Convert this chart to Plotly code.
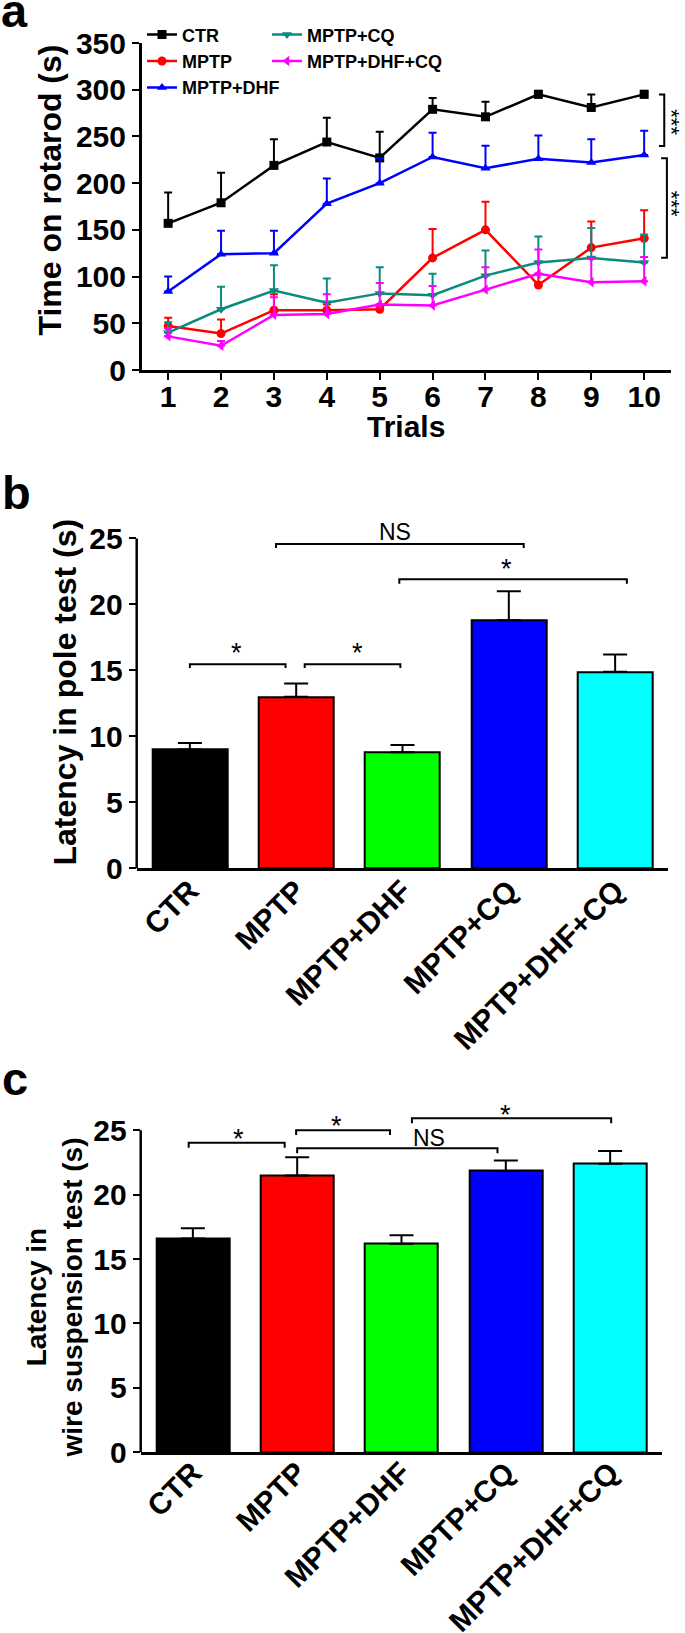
import plotly.graph_objects as go

# ---------------- data ----------------
trials = list(range(1, 11))
ctr = [157, 179, 219, 244, 227, 279, 271, 295, 281, 295]
ctr_err = [33, 32, 28, 26, 28, 12, 16, 4, 14, 4]
mptp = [47, 39, 64, 64, 65, 120, 150, 91, 131, 141]
mptp_err = [9, 15, 17, 6, 5, 31, 30, 12, 28, 30]
mptp_dhf = [84, 124, 125, 178, 200, 228, 216, 226, 222, 230]
mptp_dhf_err = [16, 25, 24, 27, 27, 26, 24, 25, 25, 26]
mptp_cq = [40, 65, 85, 72, 82, 80, 101, 115, 120, 115]
mptp_cq_err = [11, 24, 27, 26, 28, 23, 27, 28, 32, 30]
mptp_dhf_cq = [36, 26, 59, 60, 70, 69, 86, 103, 94, 95]
mptp_dhf_cq_err = [9, 5, 19, 21, 23, 21, 24, 26, 25, 26]

groups = ["CTR", "MPTP", "MPTP+DHF", "MPTP+CQ", "MPTP+DHF+CQ"]
pole = [9.0, 13.0, 8.8, 18.8, 14.9]
pole_err = [0.5, 1.0, 0.55, 2.2, 1.3]
wire = [16.6, 21.5, 16.2, 21.85, 22.4]
wire_err = [0.8, 1.4, 0.65, 0.8, 1.0]

y_ticks_a = [0, 50, 100, 150, 200, 250, 300, 350]
y_ticks_bc = [0, 5, 10, 15, 20, 25]

# significance brackets: (x0, x1, y, y_end, label, label_x, label_y)
pole_brackets = [
    (0.0, 0.90, 15.46, 15.18, "*", 0.44, 16.34),
    (1.08, 1.98, 15.46, 15.18, "*", 1.58, 16.34),
    (0.81, 3.14, 24.58, 24.27, "NS", 1.93, 25.5),
    (1.97, 4.11, 21.9, 21.57, "*", 2.98, 22.66),
]
wire_brackets = [
    (-0.04, 0.88, 24.04, 23.65, "*", 0.44, 24.31),
    (0.99, 1.89, 25.0, 24.63, "*", 1.38, 25.33),
    (1.0, 2.92, 23.6, 23.21, "NS", 2.26, 24.38),
    (2.10, 4.01, 25.93, 25.54, "*", 3.0, 26.16),
]
# rotarod vertical brackets: (x_arm, x_line, y_top, y_bottom, label_y)
rot_brackets = [
    (10.28, 10.38, 295, 239.8, 265.7),
    (10.32, 10.43, 226.6, 120.2, 178.4),
]

# ---------------- style ----------------
W, H = 685, 1633
FONT = "Liberation Sans, Arial, sans-serif"
NARROW = "Liberation Sans Narrow, Liberation Sans, Arial, sans-serif"
XRANGE_A = [0.5, 10.5]
YRANGE_B = [0, 26]
YRANGE_C = [0, 26.3]


def px_x(p):
    return p / W


def px_y(p):
    return 1 - p / H


line_series = [
    ("CTR", ctr, ctr_err, "black", "square", "legend"),
    ("MPTP", mptp, mptp_err, "#ff0000", "circle", "legend"),
    ("MPTP+DHF", mptp_dhf, mptp_dhf_err, "#0000ff", "triangle-up", "legend"),
    ("MPTP+CQ", mptp_cq, mptp_cq_err, "#0b8a80", "triangle-down", "legend2"),
    ("MPTP+DHF+CQ", mptp_dhf_cq, mptp_dhf_cq_err, "#ff00ff", "triangle-left", "legend2"),
]
bar_colors = ["black", "#ff0000", "#00ff00", "#0000ff", "#00ffff"]

fig = go.Figure()

for name, vals, errs, col, sym, leg in line_series:
    fig.add_trace(go.Scatter(
        x=trials, y=vals, name=name, mode="lines+markers",
        line=dict(color=col, width=2.5),
        marker=dict(symbol=sym, size=9, color=col),
        error_y=dict(type="data", array=errs, arrayminus=[0] * len(errs),
                     symmetric=False, color=col, thickness=2, width=4),
        xaxis="x", yaxis="y", legend=leg, cliponaxis=False,
    ))

fig.add_trace(go.Bar(
    x=list(range(len(groups))), y=pole, width=0.705,
    marker=dict(color=bar_colors, line=dict(color="black", width=2)),
    error_y=dict(type="data", array=pole_err, arrayminus=[0] * len(pole_err),
                 symmetric=False, color="black", thickness=2, width=12),
    xaxis="x2", yaxis="y2", showlegend=False,
))
fig.add_trace(go.Bar(
    x=list(range(len(groups))), y=wire, width=0.70,
    marker=dict(color=bar_colors, line=dict(color="black", width=2)),
    error_y=dict(type="data", array=wire_err, arrayminus=[0] * len(wire_err),
                 symmetric=False, color="black", thickness=2, width=12),
    xaxis="x3", yaxis="y3", showlegend=False,
))

tickfont = dict(family=FONT, size=30, color="black", weight="bold")
common_axis = dict(showgrid=False, zeroline=False, linecolor="black", linewidth=2.5,
                   tickcolor="black", tickwidth=2, tickfont=tickfont, automargin=False)

fig.update_layout(
    width=W, height=H,
    margin=dict(l=0, r=0, t=0, b=0, pad=0, autoexpand=False),
    paper_bgcolor="white", plot_bgcolor="white",
    bargap=0,
    xaxis=dict(domain=[px_x(141.7), px_x(670.6)], range=XRANGE_A, anchor="y",
               tickvals=trials, ticks="outside", ticklen=7, showline=True,
               ticklabelstandoff=-9, **common_axis),
    yaxis=dict(domain=[px_y(370), px_y(43)], range=[0, 350], anchor="x",
               tickvals=y_ticks_a, ticks="outside", ticklen=7, showline=True, **common_axis),
    xaxis2=dict(domain=[px_x(136.7), px_x(668.3)], range=[-0.5, 4.5], anchor="y2",
                tickvals=list(range(len(groups))), ticktext=groups, tickangle=-45,
                ticks="", showline=True, ticklabelstandoff=-10, **common_axis),
    yaxis2=dict(domain=[px_y(868.4), px_y(868.4 - 13.2 * YRANGE_B[1])], range=YRANGE_B,
                anchor="x2", tickvals=y_ticks_bc, ticks="outside", ticklen=7,
                showline=False, **common_axis),
    xaxis3=dict(domain=[px_x(140.7), px_x(662.3)], range=[-0.5, 4.5], anchor="y3",
                tickvals=list(range(len(groups))), ticktext=groups, tickangle=-45,
                ticks="", showline=True, ticklabelstandoff=-12, **common_axis),
    yaxis3=dict(domain=[px_y(1452.3), px_y(1452.3 - 12.88 * YRANGE_C[1])], range=YRANGE_C,
                anchor="x3", tickvals=y_ticks_bc, ticks="outside", ticklen=7,
                showline=False, **common_axis),
    legend=dict(x=px_x(142), y=px_y(16.4), xanchor="left", yanchor="top",
                bgcolor="rgba(0,0,0,0)", itemwidth=30, tracegroupgap=0,
                font=dict(family=FONT, size=18, color="black", weight="bold")),
    legend2=dict(x=px_x(267), y=px_y(16.4), xanchor="left", yanchor="top",
                 bgcolor="rgba(0,0,0,0)", itemwidth=30, tracegroupgap=0,
                 font=dict(family=FONT, size=18, color="black", weight="bold")),
)

shapes = []
annotations = []

# y axis lines of bar panels stop at 25
for xd, ya in (("x2 domain", "y2"), ("x3 domain", "y3")):
    shapes.append(dict(type="line", xref=xd, yref=ya, x0=0, x1=0, y0=0, y1=25,
                       line=dict(color="black", width=2.5)))

for xa, ya, brs in (("x2", "y2", pole_brackets), ("x3", "y3", wire_brackets)):
    for x0, x1, y, ye, lab, lx, ly in brs:
        shapes.append(dict(type="path", xref=xa, yref=ya,
                           path=f"M{x0},{ye} L{x0},{y} L{x1},{y} L{x1},{ye}",
                           line=dict(color="black", width=2)))
        if lab == "NS":
            f = dict(family=NARROW, size=23, color="black")
        else:
            f = dict(family=FONT, size=27, color="black")
        annotations.append(dict(xref=xa, yref=ya, x=lx, y=ly, text=lab, showarrow=False,
                                font=f, xanchor="center", yanchor="middle"))

for xa_, xl, yt, yb, ly in rot_brackets:
    shapes.append(dict(type="path", xref="x", yref="y",
                       path=f"M{xa_},{yt} L{xl},{yt} L{xl},{yb} L{xa_},{yb}",
                       line=dict(color="black", width=2)))
    annotations.append(dict(xref="paper", yref="y", x=1, y=ly, text="***",
                            showarrow=False, textangle=90, borderpad=0,
                            font=dict(family=FONT, size=22, color="black"),
                            xanchor="right", yanchor="middle"))

# axis titles
annotations += [
    dict(xref="paper", yref="paper", x=px_x(49), y=px_y(190.5), text="Time on rotarod (s)",
         textangle=-90, showarrow=False, xanchor="center", yanchor="middle",
         font=dict(family=FONT, size=32, color="black", weight="bold")),
    dict(xref="paper", yref="paper", x=px_x(406), y=px_y(426), text="Trials",
         showarrow=False, xanchor="center", yanchor="middle",
         font=dict(family=FONT, size=30, color="black", weight="bold")),
    dict(xref="paper", yref="paper", x=px_x(64.5), y=px_y(692), text="Latency in pole test (s)",
         textangle=-90, showarrow=False, xanchor="center", yanchor="middle",
         font=dict(family=FONT, size=32, color="black", weight="bold")),
    dict(xref="paper", yref="paper", x=px_x(53.5), y=px_y(1298),
         text="Latency in<br>wire suspension test (s)",
         textangle=-90, showarrow=False, xanchor="center", yanchor="middle",
         font=dict(family=FONT, size=28, color="black", weight="bold")),
]

# panel letters
letter_font = dict(family=FONT, size=47, color="black", weight="bold")
annotations.append(dict(xref="paper", yref="paper", x=0, y=1, text="a",
                        showarrow=False, xanchor="left", yanchor="top",
                        height=36, valign="bottom", borderpad=0, font=letter_font))
for lab, cy in (("b", 492.4), ("c", 1078.7)):
    annotations.append(dict(xref="paper", yref="paper", x=0, y=px_y(cy), text=lab,
                            showarrow=False, xanchor="left", yanchor="middle",
                            font=letter_font))

fig.update_layout(shapes=shapes, annotations=annotations)

fig.write_html("out.html", config={"displayModeBar": False},
               post_script="document.body.style.margin='0px';")
